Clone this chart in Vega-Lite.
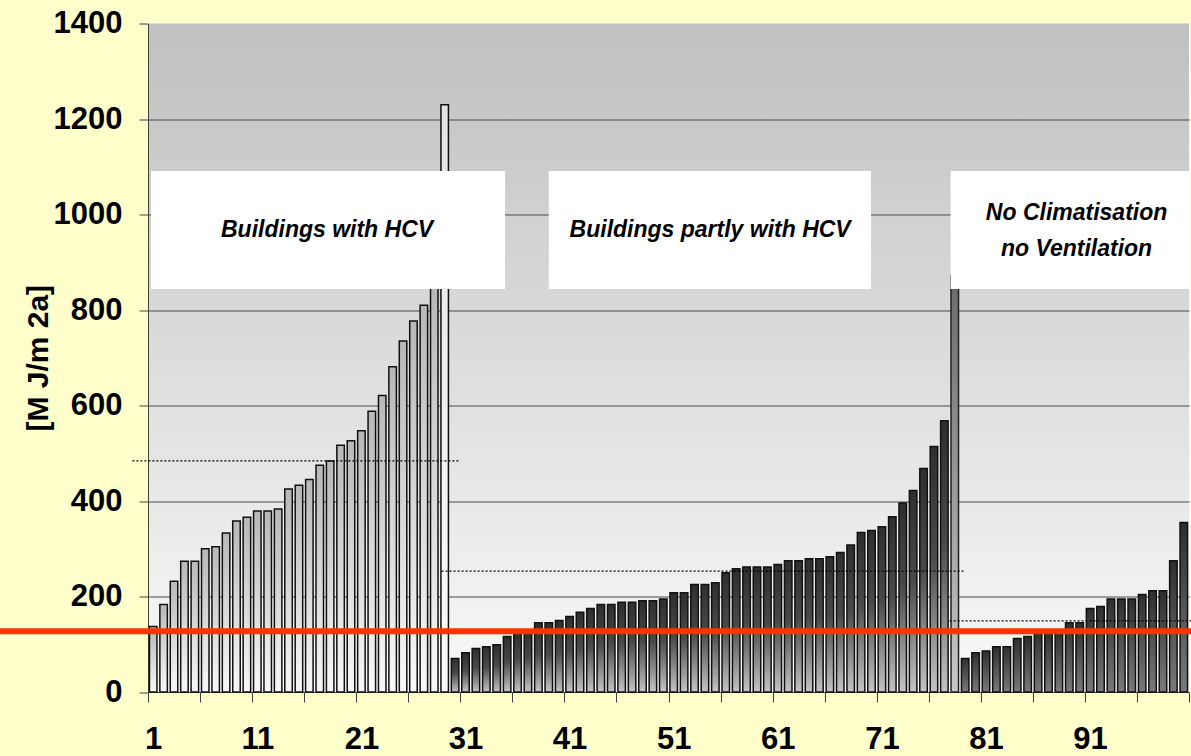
{
  "$schema": "https://vega.github.io/schema/vega-lite/v6.json",
  "width": 1041,
  "height": 668.5,
  "autosize": {"type": "none"},
  "padding": {"left": 148, "top": 23.5, "right": 2, "bottom": 64},
  "background": "#ffffcc",
  "config": {
    "view": {
      "stroke": null,
      "fill": {"gradient": "linear", "x1": 0, "y1": 0, "x2": 0, "y2": 1,
        "stops": [{"offset": 0, "color": "#c0c0c0"}, {"offset": 1, "color": "#f9f9f9"}]}
    },
    "axis": {
      "labelFont": "Liberation Sans",
      "labelFontWeight": "bold",
      "labelFontSize": 31,
      "labelColor": "#000000",
      "domainColor": "#404040",
      "domainWidth": 1,
      "tickColor": "#404040",
      "tickWidth": 1,
      "titleFont": "Liberation Sans",
      "titleFontWeight": "bold",
      "titleFontSize": 30,
      "titleColor": "#000000"
    },
    "axisX": {"grid": false, "labelOverlap": false, "labelFlush": false},
    "axisY": {"tickSize": 9, "labelPadding": 17, "gridColor": "#4a4a4a", "gridWidth": 1, "titlePadding": 0}
  },
  "resolve": {"axis": {"x": "independent"}},
  "datasets": {
    "bars": [
      {"i": 1, "v": 137, "g": "HCV"}, {"i": 2, "v": 183, "g": "HCV"}, {"i": 3, "v": 232, "g": "HCV"},
      {"i": 4, "v": 274, "g": "HCV"}, {"i": 5, "v": 274, "g": "HCV"}, {"i": 6, "v": 300, "g": "HCV"},
      {"i": 7, "v": 304, "g": "HCV"}, {"i": 8, "v": 333, "g": "HCV"}, {"i": 9, "v": 358, "g": "HCV"},
      {"i": 10, "v": 366, "g": "HCV"}, {"i": 11, "v": 379, "g": "HCV"}, {"i": 12, "v": 379, "g": "HCV"},
      {"i": 13, "v": 383, "g": "HCV"}, {"i": 14, "v": 425, "g": "HCV"}, {"i": 15, "v": 433, "g": "HCV"},
      {"i": 16, "v": 445, "g": "HCV"}, {"i": 17, "v": 475, "g": "HCV"}, {"i": 18, "v": 484, "g": "HCV"},
      {"i": 19, "v": 517, "g": "HCV"}, {"i": 20, "v": 526, "g": "HCV"}, {"i": 21, "v": 547, "g": "HCV"},
      {"i": 22, "v": 588, "g": "HCV"}, {"i": 23, "v": 621, "g": "HCV"}, {"i": 24, "v": 681, "g": "HCV"},
      {"i": 25, "v": 735, "g": "HCV"}, {"i": 26, "v": 777, "g": "HCV"}, {"i": 27, "v": 810, "g": "HCV"},
      {"i": 28, "v": 850, "g": "HCV"}, {"i": 29, "v": 1230, "g": "HCV"},
      {"i": 30, "v": 70, "g": "partly"}, {"i": 31, "v": 82, "g": "partly"}, {"i": 32, "v": 91, "g": "partly"},
      {"i": 33, "v": 95, "g": "partly"}, {"i": 34, "v": 99, "g": "partly"}, {"i": 35, "v": 116, "g": "partly"},
      {"i": 36, "v": 126, "g": "partly"}, {"i": 37, "v": 129, "g": "partly"}, {"i": 38, "v": 145, "g": "partly"},
      {"i": 39, "v": 145, "g": "partly"}, {"i": 40, "v": 150, "g": "partly"}, {"i": 41, "v": 158, "g": "partly"},
      {"i": 42, "v": 167, "g": "partly"}, {"i": 43, "v": 175, "g": "partly"}, {"i": 44, "v": 183, "g": "partly"},
      {"i": 45, "v": 183, "g": "partly"}, {"i": 46, "v": 188, "g": "partly"}, {"i": 47, "v": 188, "g": "partly"},
      {"i": 48, "v": 191, "g": "partly"}, {"i": 49, "v": 191, "g": "partly"}, {"i": 50, "v": 195, "g": "partly"},
      {"i": 51, "v": 208, "g": "partly"}, {"i": 52, "v": 208, "g": "partly"}, {"i": 53, "v": 225, "g": "partly"},
      {"i": 54, "v": 225, "g": "partly"}, {"i": 55, "v": 229, "g": "partly"}, {"i": 56, "v": 250, "g": "partly"},
      {"i": 57, "v": 258, "g": "partly"}, {"i": 58, "v": 262, "g": "partly"}, {"i": 59, "v": 262, "g": "partly"},
      {"i": 60, "v": 262, "g": "partly"}, {"i": 61, "v": 267, "g": "partly"}, {"i": 62, "v": 275, "g": "partly"},
      {"i": 63, "v": 275, "g": "partly"}, {"i": 64, "v": 279, "g": "partly"}, {"i": 65, "v": 279, "g": "partly"},
      {"i": 66, "v": 283, "g": "partly"}, {"i": 67, "v": 292, "g": "partly"}, {"i": 68, "v": 308, "g": "partly"},
      {"i": 69, "v": 334, "g": "partly"}, {"i": 70, "v": 338, "g": "partly"}, {"i": 71, "v": 346, "g": "partly"},
      {"i": 72, "v": 367, "g": "partly"}, {"i": 73, "v": 396, "g": "partly"}, {"i": 74, "v": 422, "g": "partly"},
      {"i": 75, "v": 468, "g": "partly"}, {"i": 76, "v": 514, "g": "partly"}, {"i": 77, "v": 568, "g": "partly"},
      {"i": 78, "v": 873, "g": "partly"},
      {"i": 79, "v": 70, "g": "none"}, {"i": 80, "v": 82, "g": "none"}, {"i": 81, "v": 86, "g": "none"},
      {"i": 82, "v": 95, "g": "none"}, {"i": 83, "v": 95, "g": "none"}, {"i": 84, "v": 112, "g": "none"},
      {"i": 85, "v": 116, "g": "none"}, {"i": 86, "v": 124, "g": "none"}, {"i": 87, "v": 127, "g": "none"},
      {"i": 88, "v": 129, "g": "none"}, {"i": 89, "v": 145, "g": "none"}, {"i": 90, "v": 145, "g": "none"},
      {"i": 91, "v": 175, "g": "none"}, {"i": 92, "v": 179, "g": "none"}, {"i": 93, "v": 195, "g": "none"},
      {"i": 94, "v": 195, "g": "none"}, {"i": 95, "v": 195, "g": "none"}, {"i": 96, "v": 204, "g": "none"},
      {"i": 97, "v": 212, "g": "none"}, {"i": 98, "v": 212, "g": "none"}, {"i": 99, "v": 275, "g": "none"},
      {"i": 100, "v": 355, "g": "none"}
    ],
    "means": [
      {"g": "HCV", "m": 484, "from": -1.0, "to": 30.5},
      {"g": "partly", "m": 253, "from": 28.7, "to": 78.9},
      {"g": "none", "m": 149, "from": 77.5, "to": 100.7}
    ],
    "notes": [
      {"label": "Buildings with HCV", "from": 0.79, "to": 34.8, "mid": 17.7},
      {"label": "Buildings partly with HCV", "from": 39.0, "to": 69.95, "mid": 54.5},
      {"label": "No Climatisation\nno Ventilation", "from": 77.6, "to": 100.6, "mid": 89.7}
    ]
  },
  "layer": [
    {
      "data": {"name": "bars"},
      "transform": [{"filter": "datum.g == 'HCV' && datum.i != 29"}],
      "mark": {"type": "bar", "orient": "vertical", "size": 7.5, "stroke": "#111111", "strokeWidth": 1.5,
        "fill": {"gradient": "linear", "x1": 0, "y1": 0, "x2": 0, "y2": 1,
          "stops": [{"offset": 0, "color": "#b8b8b8"}, {"offset": 1, "color": "#f8f8f8"}]}},
      "encoding": {
        "x": {"field": "i", "type": "quantitative",
          "scale": {"domain": [0.5, 100.5], "nice": false, "zero": false, "padding": 0},
          "axis": {
            "title": null,
            "orient": "bottom",
            "values": [1, 11, 21, 31, 41, 51, 61, 71, 81, 91],
            "format": "d",
            "ticks": false,
            "tickSize": 0,
            "domain": false,
            "labelPadding": 32,
            "labelFlush": false,
            "labelOverlap": false
          }},
        "y": {"field": "v", "type": "quantitative",
          "scale": {"domain": [0, 1400], "nice": false},
          "axis": {
            "title": "[M J/m 2a]",
            "values": [0, 200, 400, 600, 800, 1000, 1200, 1400],
            "format": "d",
            "grid": true,
            "gridOpacity": {"condition": {"test": "datum.value == 1400 || datum.value == 0", "value": 0}, "value": 1}
          }}
      }
    },
    {
      "data": {"name": "bars"},
      "transform": [{"filter": "datum.i == 29"}],
      "mark": {"type": "bar", "orient": "vertical", "size": 7.5, "stroke": "#111111", "strokeWidth": 1.5,
        "fill": {"gradient": "linear", "x1": 0, "y1": 0, "x2": 0, "y2": 1,
          "stops": [{"offset": 0, "color": "#e4e4e4"}, {"offset": 1, "color": "#fbfbfb"}]}},
      "encoding": {
        "x": {"field": "i", "type": "quantitative", "axis": null},
        "y": {"field": "v", "type": "quantitative"}
      }
    },
    {
      "data": {"name": "bars"},
      "transform": [{"filter": "datum.g == 'partly' && datum.i != 78"}],
      "mark": {"type": "bar", "orient": "vertical", "size": 7.5, "stroke": "#111111", "strokeWidth": 1.5,
        "fill": {"gradient": "linear", "x1": 0, "y1": 0, "x2": 0, "y2": 1,
          "stops": [{"offset": 0, "color": "#2e2e2e"}, {"offset": 0.45, "color": "#4a4a4a"}, {"offset": 1, "color": "#c4c4c4"}]}},
      "encoding": {
        "x": {"field": "i", "type": "quantitative", "axis": null},
        "y": {"field": "v", "type": "quantitative"}
      }
    },
    {
      "data": {"name": "bars"},
      "transform": [{"filter": "datum.i == 78"}],
      "mark": {"type": "bar", "orient": "vertical", "size": 7.5, "stroke": "#222222", "strokeWidth": 1.5,
        "fill": {"gradient": "linear", "x1": 0, "y1": 0, "x2": 0, "y2": 1,
          "stops": [{"offset": 0, "color": "#6a6a6a"}, {"offset": 1, "color": "#c8c8c8"}]}},
      "encoding": {
        "x": {"field": "i", "type": "quantitative", "axis": null},
        "y": {"field": "v", "type": "quantitative"}
      }
    },
    {
      "data": {"name": "bars"},
      "transform": [{"filter": "datum.g == 'none'"}],
      "mark": {"type": "bar", "orient": "vertical", "size": 7.5, "stroke": "#111111", "strokeWidth": 1.5,
        "fill": {"gradient": "linear", "x1": 0, "y1": 0, "x2": 0, "y2": 1,
          "stops": [{"offset": 0, "color": "#2e2e2e"}, {"offset": 1, "color": "#7a7a7a"}]}},
      "encoding": {
        "x": {"field": "i", "type": "quantitative", "axis": null},
        "y": {"field": "v", "type": "quantitative"}
      }
    },
    {
      "data": {"name": "means"},
      "mark": {"type": "rule", "color": "#000000", "strokeWidth": 1.3, "strokeDash": [2, 2]},
      "encoding": {
        "x": {"field": "from", "type": "quantitative",
          "axis": {
            "title": null,
            "orient": "bottom",
            "values": [0.5, 5.5, 10.5, 15.5, 20.5, 25.5, 30.5, 35.5, 40.5, 45.5, 50.5, 55.5, 60.5, 65.5, 70.5, 75.5, 80.5, 85.5, 90.5, 95.5, 100.5],
            "labels": false,
            "ticks": true,
            "tickSize": 10,
            "domain": true
          }},
        "x2": {"field": "to"},
        "y": {"field": "m", "type": "quantitative"}
      }
    },
    {
      "data": {"name": "notes"},
      "mark": {"type": "rect", "fill": "#ffffff"},
      "encoding": {
        "x": {"field": "from", "type": "quantitative", "axis": null},
        "x2": {"field": "to"},
        "y": {"datum": 844, "type": "quantitative"},
        "y2": {"datum": 1091}
      }
    },
    {
      "data": {"name": "notes"},
      "transform": [{"filter": "indexof(datum.label, '\\n') < 0"}],
      "mark": {"type": "text", "font": "Liberation Sans", "fontSize": 23, "fontWeight": "bold", "fontStyle": "italic",
        "color": "#000000", "align": "center", "baseline": "middle"},
      "encoding": {
        "x": {"field": "mid", "type": "quantitative", "axis": null},
        "y": {"datum": 967, "type": "quantitative"},
        "text": {"field": "label"}
      }
    },
    {
      "data": {"name": "notes"},
      "transform": [{"filter": "indexof(datum.label, '\\n') >= 0"}],
      "mark": {"type": "text", "font": "Liberation Sans", "fontSize": 23, "fontWeight": "bold", "fontStyle": "italic",
        "color": "#000000", "align": "center", "baseline": "middle", "lineBreak": "\n", "lineHeight": 36},
      "encoding": {
        "x": {"field": "mid", "type": "quantitative", "axis": null},
        "y": {"datum": 1004, "type": "quantitative"},
        "text": {"field": "label"}
      }
    },
    {
      "data": {"values": [{}]},
      "mark": {"type": "rule", "color": "#ff3300", "strokeWidth": 6},
      "encoding": {
        "x": {"datum": -14, "type": "quantitative", "axis": null},
        "x2": {"datum": 101},
        "y": {"datum": 127, "type": "quantitative"}
      }
    }
  ]
}
